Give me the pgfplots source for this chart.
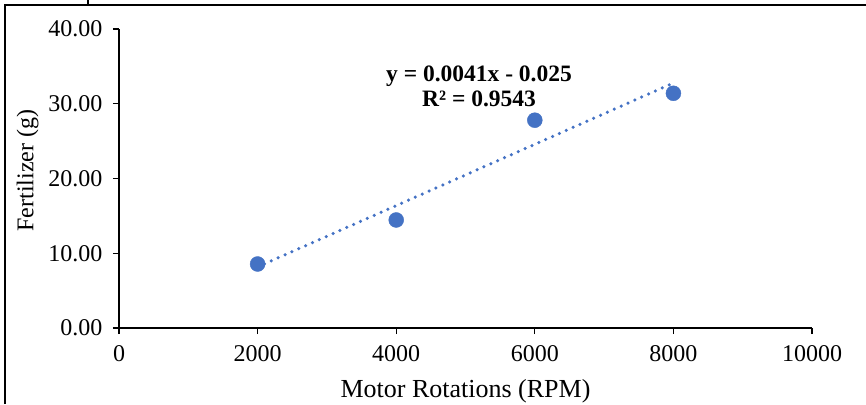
\documentclass[border=0pt]{standalone}
\usepackage{pgfplots}
\pgfplotsset{compat=1.18}
\usepackage{fontspec}
\setmainfont{Liberation Serif}
\definecolor{xlblue}{HTML}{4472C4}
\begin{document}
\begin{tikzpicture}[x=1pt,y=1pt]
\path[use as bounding box] (0,0) rectangle (866,404);
\draw[line width=2pt] (5,0) -- (5,399) -- (866,399);
\draw[line width=1.5pt] (88,399) -- (88,404);
\begin{axis}[
  at={(119pt,76pt)}, anchor=south west,
  scale only axis, width=693pt, height=299pt,
  xmin=0, xmax=10000, ymin=0, ymax=40,
  axis lines=left, axis line style={line width=1.3pt, -},
  xtick={0,2000,4000,6000,8000,10000},
  ytick={0,10,20,30,40},
  scaled ticks=false,
  tick style={line width=1.3pt, black},
  tick align=outside, major tick length=6pt,
  /pgf/number format/assume math mode=true,
  x tick label style={/pgf/number format/set thousands separator={}, /pgf/number format/fixed, yshift=-8pt},
  y tick label style={/pgf/number format/fixed, /pgf/number format/fixed zerofill, /pgf/number format/precision=2, xshift=-7pt},
  ticklabel style={font=\fontsize{24}{28}\selectfont},
  label style={font=\fontsize{26}{30}\selectfont},
  xlabel={Motor Rotations (RPM)},
  ylabel={Fertilizer (g)},
  xlabel style={yshift=-11pt},
  ylabel style={font=\fontsize{24}{28}\selectfont, yshift=3pt, xshift=8pt},
  clip=false,
]
\addplot[xlblue, line width=3.5pt, line cap=round, dash pattern=on 0pt off 7.5pt] coordinates {(2000,8.175) (8000,32.775)};
\addplot[only marks, mark=*, mark size=7.5pt, mark options={fill=xlblue, draw=xlblue}] coordinates {
(2000,8.56) (4000,14.45) (6000,27.8) (8000,31.4)};
\node[align=center, font=\fontsize{23.5}{25}\bfseries\selectfont] at (axis cs:5195,32.3) {y = 0.0041x - 0.025\\R² = 0.9543};
\end{axis}
\end{tikzpicture}
\end{document}
